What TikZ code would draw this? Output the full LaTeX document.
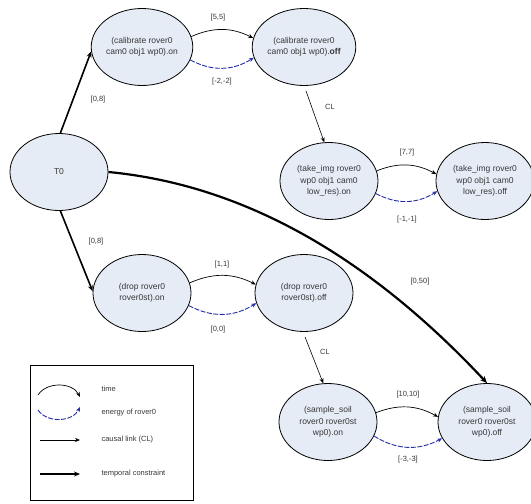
\documentclass[tikz,border=0pt]{standalone}
\usepackage{fontspec}
\setmainfont{Liberation Sans}
\usetikzlibrary{arrows.meta,shapes.geometric}
\definecolor{nodefill}{RGB}{230,236,246}
\definecolor{txt}{RGB}{55,55,55}
\definecolor{energy}{RGB}{35,45,165}
\begin{document}
\begin{tikzpicture}[x=1pt,y=-1pt,
  state/.style={ellipse, draw, line width=0.8pt, fill=nodefill, minimum width=98pt, minimum height=77pt, inner sep=0pt, align=center, font=\fontsize{8.5}{11.5}\selectfont, text=txt},
  lbl/.style={font=\fontsize{7.5}{9}\selectfont, text=txt},
  tip/.style={-{Stealth[length=5pt,width=4pt]}},
  timearc/.style={tip, line width=0.7pt, bend left=25},
  energyarc/.style={tip, draw=energy, line width=0.9pt, dash pattern=on 5pt off 1.5pt, bend right=30},
  causal/.style={tip, line width=0.6pt},
  tcon/.style={-{Stealth[length=6pt,width=5pt]}, line width=1.6pt},
  tconthick/.style={-{Stealth[length=7pt,width=6pt]}, line width=2.2pt}
]
\useasboundingbox (0,0) rectangle (531,504);

% nodes
\node[state] (T0) at (59,172) {T0};
\node[state] (con) at (142,47) {(calibrate rover0\\cam0 obj1 wp0).on};
\node[state] (coff) at (304,47) {(calibrate rover0\\cam0 obj1 wp0).\textbf{off}};
\node[state] (ton) at (329,181) {(take\_img rover0\\wp0 obj1 cam0\\low\_res).on};
\node[state] (toff) at (485,181) {(take\_img rover0\\wp0 obj1 cam0\\low\_res).off};
\node[state] (don) at (142,293) {(drop rover0\\rover0st).on};
\node[state] (doff) at (304,293) {(drop rover0\\rover0st).off};
\node[state] (son) at (328,422) {(sample\_soil\\rover0 rover0st\\wp0).on};
\node[state] (soff) at (487,422) {(sample\_soil\\rover0 rover0st\\wp0).off};

% temporal constraints from T0
\draw[tcon] (T0.88) -- (con.185);
\draw[tcon] (T0.272) -- (don.178);
\draw[tconthick] (T0.east) .. controls (245,185) and (370,258) .. (soff.north);
\node[lbl] (l08a) at (98,100) {[0,8]};
\node[lbl] (l08b) at (96,242) {[0,8]};
\node[lbl] (l050) at (420,282) {[0,50]};

% time / energy arcs
\draw[timearc] (con.12) to (coff.170);
\draw[energyarc] (con.345) to (coff.192);
\node[lbl] (l55) at (218,18) {[5,5]};
\node[lbl] (lm22) at (222,82) {[-2,-2]};

\draw[timearc] (ton.12) to (toff.172);
\draw[energyarc] (ton.345) to (toff.192);
\node[lbl] (l77) at (407,153) {[7,7]};
\node[lbl] (lm11) at (407,220) {[-1,-1]};

\draw[timearc] (don.12) to (doff.170);
\draw[energyarc] (don.345) to (doff.192);
\node[lbl] (l11) at (222,265) {[1,1]};
\node[lbl] (l00) at (218,330) {[0,0]};

\draw[timearc] (son.11) to (soff.174);
\draw[energyarc] (son.343) to (soff.200);
\node[lbl] (l1010) at (408,395) {[10,10]};
\node[lbl] (lm33) at (408,460) {[-3,-3]};

% causal links
\draw[causal] ([xshift=2pt,yshift=-5pt]coff.south) -- (ton.97);
\node[lbl] (lcl1) at (330,107) {CL};
\draw[causal] ([xshift=1pt,yshift=-5pt]doff.south) -- (son.97);
\node[lbl] (lcl2) at (325,352) {CL};

% legend
\node[draw, line width=0.8pt, minimum width=163pt, minimum height=135pt, inner sep=0pt, anchor=north west] (legend) at (30,365) {};
\coordinate (lt1) at (38,395);
\coordinate (lt2) at (80,397);
\draw[tip, line width=0.7pt] (lt1) to[bend left=60] (lt2);
\coordinate (le1) at (38,410);
\coordinate (le2) at (80,407);
\draw[tip, draw=energy, line width=0.9pt, dash pattern=on 5pt off 1.5pt] (le1) to[bend right=60] (le2);
\coordinate (lc1) at (40,440);
\coordinate (lc2) at (80,440);
\draw[causal] (lc1) -- (lc2);
\coordinate (lk1) at (40,474);
\coordinate (lk2) at (80,474);
\draw[tcon] (lk1) -- (lk2);
\node[lbl, anchor=west] (ltime) at (98,389) {time};
\node[lbl, anchor=west] (lenergy) at (98,413) {energy of rover0};
\node[lbl, anchor=west] (lcausal) at (98,440) {causal link (CL)};
\node[lbl, anchor=west] (ltemp) at (98,474) {temporal constraint};
\end{tikzpicture}
\end{document}
